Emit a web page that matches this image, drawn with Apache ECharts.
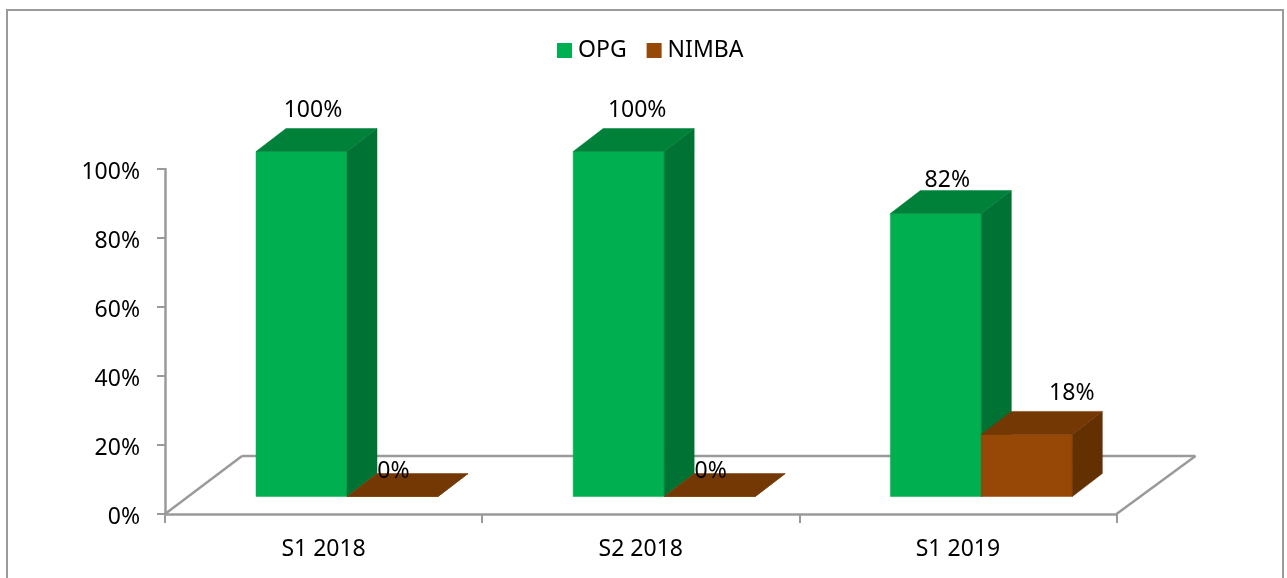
<!DOCTYPE html>
<html>
<head>
<meta charset="utf-8">
<style>html,body{margin:0;padding:0;background:#fff;overflow:hidden}#c{width:1287px;height:578px}</style>
<script src="https://cdn.jsdelivr.net/npm/echarts@6/dist/echarts.min.js"></script>
</head>
<body>
<div id="c"></div>
<script>
const categories = ['S1 2018', 'S2 2018', 'S1 2019'];
const opgValues = [100, 100, 82];
const nimbaValues = [0, 0, 18];
const yTickStep = 20;

const FONT = '"Noto Sans", sans-serif';
const GREY = '#9A9A9A';
const BAR_W = 91, DX = 30, DY = 23, LIFT = 17.5;
// label nudges from the top-centre of each bar's front face
const opgLabelNudge = [[11.5, -53], [18.5, -53], [11.5, -45]];
const nimbaLabelNudge = [[1, -37], [1, -37], [45, -52]];

function barRenderer(slot, colors, nudges) {
  return function (params, api) {
    const i = api.value(0), v = api.value(1);
    const band = api.size([1, 0])[0];
    const base = api.coord([i, 0]);
    const top = api.coord([i, v]);
    const x0 = base[0] - band / 2 + BAR_W * (1 + slot);
    const x1 = x0 + BAR_W;
    const yb = base[1] - LIFT, yt = top[1] - LIFT;
    const n = nudges[i];
    const poly = (points, fill) => ({ type: 'polygon', shape: { points }, style: { fill, stroke: fill, lineWidth: 0.5 } });
    return {
      type: 'group',
      children: [
        poly([[x0, yb], [x1, yb], [x1, yt], [x0, yt]], colors.front),
        poly([[x1, yb], [x1 + DX, yb - DY], [x1 + DX, yt - DY], [x1, yt]], colors.side),
        poly([[x0, yt], [x1, yt], [x1 + DX, yt - DY], [x0 + DX, yt - DY]], colors.top),
        {
          type: 'text', z2: 50,
          style: {
            text: v + '%', x: (x0 + x1) / 2 + n[0], y: yt + n[1],
            textAlign: 'center', textBaseline: 'middle',
            font: '23px ' + FONT, fill: '#000'
          }
        }
      ]
    };
  };
}

function floorRenderer(params, api) {
  const band = api.size([1, 0])[0];
  const a = api.coord([0, 0]);
  const x0 = a[0] - band / 2, x1 = x0 + band * categories.length, y = a[1];
  const line = (p, q) => ({ type: 'line', shape: { x1: p[0], y1: p[1], x2: q[0], y2: q[1] }, style: { stroke: GREY, lineWidth: 2.5 } });
  const bx = 77, by = 58;
  return {
    type: 'group',
    children: [
      line([x0, y], [x0 + bx, y - by]),
      line([x0 + bx, y - by], [x1 + 79, y - by]),
      line([x1 + 79, y - by], [x1, y])
    ]
  };
}

const chart = echarts.init(document.getElementById('c'), null, { renderer: 'canvas' });
chart.setOption({
  animation: false,
  backgroundColor: '#fff',
  graphic: [{
    type: 'rect', silent: true, z: -1,
    shape: { x: 7, y: 10, width: 1276, height: 600 },
    style: { fill: '#fff', stroke: GREY, lineWidth: 2 }
  }],
  legend: {
    data: [{ name: 'OPG', icon: 'rect' }, { name: 'NIMBA', icon: 'rect' }],
    left: 552, top: 34,
    itemWidth: 15, itemHeight: 15, itemGap: 20,
    textStyle: { fontFamily: FONT, fontSize: 23, color: '#000', padding: [0, 0, 0, 1] }
  },
  grid: { left: 165, right: 170.5, top: 169, bottom: 64 },
  xAxis: {
    type: 'category',
    data: categories,
    axisLine: { lineStyle: { color: GREY, width: 2.5 } },
    axisTick: { show: true, length: 9, lineStyle: { color: GREY, width: 2 } },
    axisLabel: { fontFamily: FONT, fontSize: 23, color: '#000', margin: 24 }
  },
  yAxis: {
    type: 'value', min: 0, max: 100, interval: yTickStep,
    axisLine: { show: true, lineStyle: { color: GREY, width: 2.5 } },
    axisTick: { show: true, length: 8, lineStyle: { color: GREY, width: 2 } },
    splitLine: { show: false },
    axisLabel: { fontFamily: FONT, fontSize: 23, color: '#000', margin: 25, verticalAlign: 'top', lineHeight: 6, formatter: '{value}%' }
  },
  series: [
    { type: 'custom', name: 'floor', z: 1, silent: true, renderItem: floorRenderer, data: [[0, 0]], encode: { x: 0, y: 1 }, clip: false },
    {
      type: 'custom', name: 'OPG', z: 2, clip: false,
      itemStyle: { color: '#00B050' },
      renderItem: barRenderer(0, { front: '#00B050', side: '#007233', top: '#00813A' }, opgLabelNudge),
      data: opgValues.map((v, i) => [i, v]), encode: { x: 0, y: 1 }
    },
    {
      type: 'custom', name: 'NIMBA', z: 3, clip: false,
      itemStyle: { color: '#974706' },
      renderItem: barRenderer(1, { front: '#974706', side: '#633002', top: '#743804' }, nimbaLabelNudge),
      data: nimbaValues.map((v, i) => [i, v]), encode: { x: 0, y: 1 }
    }
  ]
});
</script>
</body>
</html>
